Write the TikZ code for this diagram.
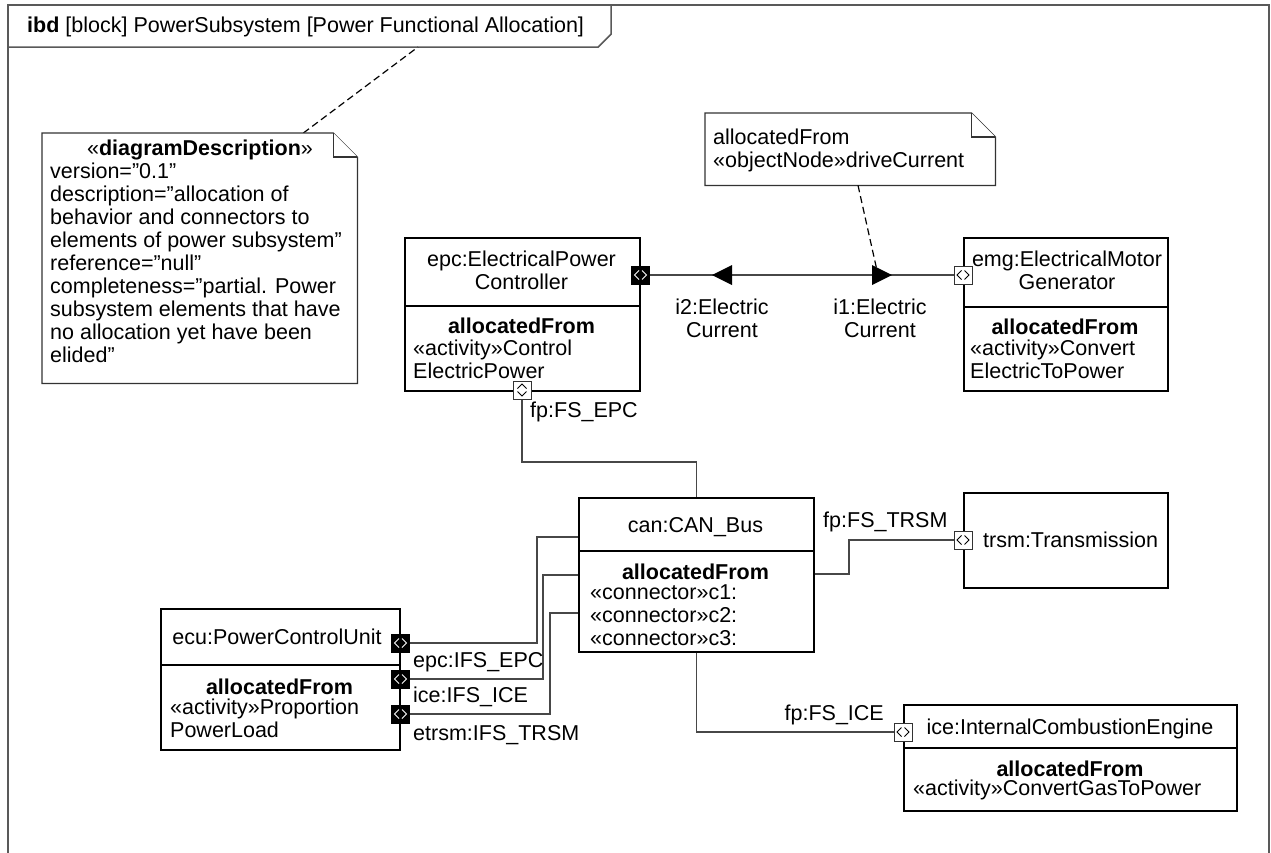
\documentclass[tikz,border=0pt]{standalone}
\usepackage{fontspec}
\setmainfont{Liberation Sans}
\newcommand\dfont{\fontsize{21.5}{23}\selectfont}
\begin{document}
\begin{tikzpicture}[x=1pt,y=-1pt,
  blk/.style={draw=black,line width=1.5pt,fill=white,inner sep=0pt,anchor=north west},
  sepline/.style={draw=black,line width=1.5pt},
  conn/.style={draw=black!72,line width=1.2pt},
  dconn/.style={draw=black,line width=1.2pt,dash pattern=on 7pt off 4pt},
  lbl/.style={inner sep=0pt,font=\dfont,execute at begin node=\strut,execute at end node=\strut},
  note/.style={draw=black!80,line width=1.2pt,fill=white},
  frm/.style={draw=black!65,line width=1.5pt},
  chev/.style={line width=0.9pt},
  portw/.style={draw=black!80,fill=white,line width=1pt,minimum size=18pt,inner sep=0pt,
    path picture={
      \draw[chev,black] ([shift={(-1.5pt,4.5pt)}]path picture bounding box.center) -- ++(-4.5pt,-4.5pt) -- ++(4.5pt,-4.5pt);
      \draw[chev,black] ([shift={(1.5pt,4.5pt)}]path picture bounding box.center) -- ++(4.5pt,-4.5pt) -- ++(-4.5pt,-4.5pt);}},
  portb/.style={draw=black,fill=black,line width=1pt,minimum size=18pt,inner sep=0pt,
    path picture={
      \draw[chev,white] ([shift={(-1.5pt,4.5pt)}]path picture bounding box.center) -- ++(-4.5pt,-4.5pt) -- ++(4.5pt,-4.5pt);
      \draw[chev,white] ([shift={(1.5pt,4.5pt)}]path picture bounding box.center) -- ++(4.5pt,-4.5pt) -- ++(-4.5pt,-4.5pt);}},
  portv/.style={draw=black!80,fill=white,line width=1pt,minimum size=18pt,inner sep=0pt,
    path picture={
      \draw[chev,black] ([shift={(-4.5pt,1.5pt)}]path picture bounding box.center) -- ++(4.5pt,4.5pt) -- ++(4.5pt,-4.5pt);
      \draw[chev,black] ([shift={(-4.5pt,-1.5pt)}]path picture bounding box.center) -- ++(4.5pt,-4.5pt) -- ++(4.5pt,4.5pt);}}
]
\useasboundingbox (0,0) rectangle (1271,852);
\fill[white] (0,0) rectangle (1271,852);

% frame and header
\draw[frm] (8,5) rectangle (1269,880);
\node[lbl,anchor=west] (title) at (27,28) {\textbf{ibd} [block] PowerSubsystem [Power Functional Allocation]};
\coordinate (hx) at ([xshift=14pt]title.east);
\coordinate (hy) at ([xshift=27pt]title.east);
\draw[frm] (8,47) -- (hx |- 0,47) -- (hy |- 0,34) -- (hy |- 0,5);
\coordinate (hb) at (418,47);

% note 1
\node[inner sep=0pt,minimum width=315pt,minimum height=250pt,anchor=north west] (n1) at (42,133) {};
\draw[dconn] ([xshift=-54pt]n1.north east) -- (hb);
\draw[note] (n1.north west) -- ([xshift=-24pt]n1.north east) -- ([yshift=-24pt]n1.north east) -- (n1.south east) -- (n1.south west) -- cycle;
\draw[note] ([xshift=-24pt]n1.north east) -- ++(0,24) -- ([yshift=-24pt]n1.north east);
\node[lbl] (n1h) at (200,151) {«\textbf{diagramDescription}»};
\node[lbl,anchor=west,align=left] (n1b) at (50,266) {version=”0.1\symbol{34}\\description=”allocation of\\behavior and connectors to\\elements of power subsystem\symbol{34}\\reference=”null”\\completeness=”partial. Power\\subsystem elements that have\\no allocation yet have been\\elided”};

% note 2
\node[inner sep=0pt,minimum width=290pt,minimum height=72pt,anchor=north west] (n2) at (705,113) {};
\draw[note] (n2.north west) -- ([xshift=-24pt]n2.north east) -- ([yshift=-24pt]n2.north east) -- (n2.south east) -- (n2.south west) -- cycle;
\draw[note] ([xshift=-24pt]n2.north east) -- ++(0,24) -- ([yshift=-24pt]n2.north east);
\node[lbl,anchor=west,align=left] (n2t) at (713,152) {allocatedFrom\\«objectNode»driveCurrent};

% epc block
\node[blk,minimum width=235pt,minimum height=153pt] (epc) at (404,237) {};
\draw[sepline] (epc.west |- 0,306) -- (epc.east |- 0,306);
\node[lbl,align=center] (epct) at (521.5,274) {epc:ElectricalPower\\Controller};
\node[lbl] (epca) at (521.5,329) {\textbf{allocatedFrom}};
\node[lbl,anchor=west,align=left] (epcb) at (413,363) {«activity»Control\\ElectricPower};
\node[portb] (epcR) at (epc.east |- 0,275) {};
\node[portv] (epcB) at (522,390) {};

% emg block
\node[blk,minimum width=204pt,minimum height=153pt] (emg) at (963,237) {};
\draw[sepline] (emg.west |- 0,307) -- (emg.east |- 0,307);
\node[lbl,align=center] (emgt) at (1067,274) {emg:ElectricalMotor\\Generator};
\node[lbl] (emga) at (1065,330) {\textbf{allocatedFrom}};
\node[lbl,anchor=west,align=left] (emgb) at (970,363) {«activity»Convert\\ElectricToPower};
\node[portw] (emgL) at (emg.west |- 0,275) {};

% flow between epc and emg
\draw[conn] (epcR.east) -- (emgL.west);
\coordinate (f2) at (712,275);
\coordinate (f1) at (892,275);
\fill[black] (f2) -- ++(20,-10) -- ++(0,20) -- cycle;
\fill[black] (f1) -- ++(-20,-10) -- ++(0,20) -- cycle;
\draw[dconn] (n2.south -| 858,0) -- (f1 -| 878,0);
\node[lbl,align=center] (i2) at (722,321.5) {i2:Electric\\Current};
\node[lbl,align=center] (i1) at (880,321.5) {i1:Electric\\Current};

% can block
\node[blk,minimum width=235pt,minimum height=154pt] (can) at (578,497) {};
\draw[sepline] (can.west |- 0,551) -- (can.east |- 0,551);
\node[lbl] (cant) at (695.5,528) {can:CAN\_Bus};
\node[lbl] (cana) at (695.5,575) {\textbf{allocatedFrom}};
\node[lbl,anchor=west,align=left] (canb) at (590,619) {«connector»c1:\\«connector»c2:\\«connector»c3:};

\draw[conn] (epcB.south) -- (epcB.south |- 0,462) -- (can.north |- 0,462) -- (can.north);
\node[lbl,anchor=west] (lfsepc) at (530,413) {fp:FS\_EPC};

% trsm block
\node[blk,minimum width=204pt,minimum height=95pt] (trsm) at (963,492) {};
\node[lbl,anchor=west] (trsmt) at (983,543) {trsm:Transmission};
\node[portw] (trsmP) at (trsm.west |- 0,540) {};
\draw[conn] (can.east |- 0,574) -- (849,574) -- (849,540) -- (trsmP.west);
\node[lbl,anchor=west] (lfstrsm) at (823,523) {fp:FS\_TRSM};

% ice block
\node[blk,minimum width=333pt,minimum height=106pt] (ice) at (903,704) {};
\draw[sepline] (ice.west |- 0,748) -- (ice.east |- 0,748);
\node[lbl] (icet) at (1070,730) {ice:InternalCombustionEngine};
\node[lbl] (icea) at (1070,772) {\textbf{allocatedFrom}};
\node[lbl,anchor=west] (iceb) at (913,791) {«activity»ConvertGasToPower};
\node[portw] (iceP) at (ice.west |- 0,732) {};
\draw[conn] (can.south) -- (can.south |- iceP.west) -- (iceP.west);
\node[lbl,anchor=east] (lfsice) at (884,716) {fp:FS\_ICE};

% ecu block
\node[blk,minimum width=239pt,minimum height=141pt] (ecu) at (160,608) {};
\draw[sepline] (ecu.west |- 0,665) -- (ecu.east |- 0,665);
\node[lbl] (ecut) at (277,640) {ecu:PowerControlUnit};
\node[lbl] (ecua) at (279.5,690) {\textbf{allocatedFrom}};
\node[lbl,anchor=west,align=left] (ecub) at (170,721.5) {«activity»Proportion\\PowerLoad};
\node[portb] (ecuP1) at (ecu.east |- 0,643) {};
\node[portb] (ecuP2) at (ecu.east |- 0,679) {};
\node[portb] (ecuP3) at (ecu.east |- 0,714) {};
\draw[conn] (ecuP1.east) -- (537,643) -- (537,537) -- (can.west |- 0,537);
\draw[conn] (ecuP2.east) -- (543,679) -- (543,575) -- (can.west |- 0,575);
\draw[conn] (ecuP3.east) -- (550,714) -- (550,613) -- (can.west |- 0,613);
\node[lbl,anchor=west] (lepc) at (413,663) {epc:IFS\_EPC};
\node[lbl,anchor=west] (lice) at (413,698) {ice:IFS\_ICE};
\node[lbl,anchor=west] (letrsm) at (413,736) {etrsm:IFS\_TRSM};
\end{tikzpicture}
\end{document}
